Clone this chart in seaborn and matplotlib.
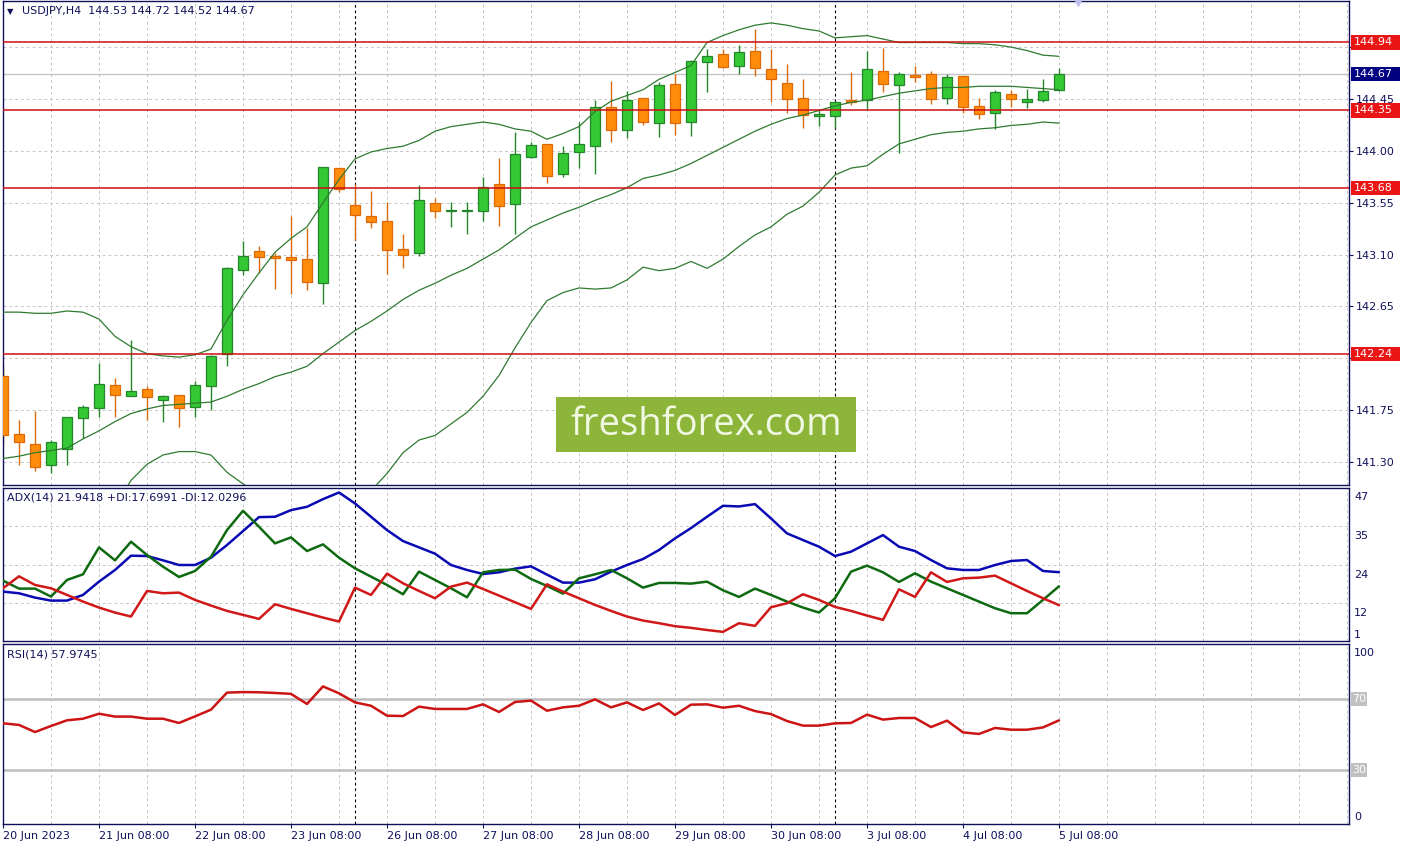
"""
USDJPY H4 chart with Bollinger bands, ADX(14) and RSI(14) panels.
"""
import numpy as np
import pandas as pd
import matplotlib
matplotlib.use("Agg")
import matplotlib.pyplot as plt
import matplotlib.transforms as mtransforms
from matplotlib.patches import Rectangle
import seaborn as sns

# ---- values (bar 0 = 20 Jun 08:00, H4 bars) ----
opens = [142.05, 141.54, 141.46, 141.27, 141.41, 141.68, 141.77, 141.97, 141.87, 141.93,
         141.84, 141.88, 141.78, 141.96, 142.24, 142.97, 143.13, 143.09, 143.08, 143.06,
         142.85, 143.85, 143.53, 143.43, 143.39, 143.15, 143.11, 143.55, 143.480, 143.480,
         143.48, 143.71, 143.54, 143.95, 144.06, 143.80, 143.99, 144.04, 144.38, 144.18,
         144.46, 144.24, 144.58, 144.25, 144.77, 144.84, 144.74, 144.87, 144.71, 144.59,
         144.46, 144.305, 144.305, 144.44, 144.44, 144.69, 144.57, 144.656, 144.67, 144.46,
         144.65, 144.39, 144.33, 144.49, 144.42, 144.44, 144.53]
highs = [142.13, 141.66, 141.74, 141.49, 141.69, 141.79, 142.16, 142.03, 142.36, 141.96,
         141.88, 141.88, 142.00, 142.23, 142.99, 143.22, 143.17, 143.11, 143.43, 143.33,
         143.86, 143.85, 143.71, 143.65, 143.56, 143.28, 143.70, 143.59, 143.556, 143.556,
         143.77, 143.94, 144.16, 144.08, 144.06, 144.04, 144.25, 144.44, 144.61, 144.52,
         144.46, 144.60, 144.67, 144.79, 144.88, 144.88, 144.92, 145.06, 144.88, 144.75,
         144.62, 144.355, 144.43, 144.68, 144.87, 144.89, 144.68, 144.736, 144.69, 144.67,
         144.65, 144.46, 144.53, 144.53, 144.54, 144.62, 144.72]
lows = [141.46, 141.27, 141.22, 141.20, 141.27, 141.51, 141.69, 141.69, 141.87, 141.66,
        141.65, 141.60, 141.69, 141.75, 142.13, 142.92, 142.94, 142.80, 142.76, 142.79,
        142.67, 143.64, 143.23, 143.33, 142.93, 142.98, 143.09, 143.42, 143.342, 143.276,
        143.39, 143.35, 143.28, 143.94, 143.72, 143.77, 143.85, 143.80, 144.08, 144.11,
        144.22, 144.12, 144.14, 144.13, 144.51, 144.72, 144.67, 144.65, 144.42, 144.33,
        144.20, 144.216, 144.20, 144.40, 144.36, 144.51, 143.98, 144.600, 144.41, 144.41,
        144.33, 144.28, 144.19, 144.38, 144.37, 144.42, 144.52]
closes = [141.53, 141.47, 141.26, 141.47, 141.69, 141.78, 141.98, 141.88, 141.92, 141.86,
          141.87, 141.77, 141.97, 142.22, 142.98, 143.09, 143.08, 143.07, 143.05, 142.86,
          143.86, 143.67, 143.44, 143.38, 143.14, 143.10, 143.57, 143.48, 143.487, 143.487,
          143.69, 143.52, 143.97, 144.05, 143.78, 143.98, 144.06, 144.38, 144.18, 144.44,
          144.25, 144.57, 144.24, 144.78, 144.82, 144.73, 144.86, 144.72, 144.62, 144.45,
          144.31, 144.317, 144.42, 144.42, 144.71, 144.58, 144.67, 144.641, 144.45, 144.64,
          144.38, 144.32, 144.51, 144.45, 144.45, 144.52, 144.67]

bb_upper = [142.60, 142.60, 142.59, 142.59, 142.61, 142.60, 142.54, 142.39, 142.30, 142.24,
            142.22, 142.21, 142.23, 142.28, 142.53, 142.75, 142.94, 143.12, 143.24, 143.34,
            143.55, 143.75, 143.93, 143.99, 144.02, 144.04, 144.09, 144.17, 144.21, 144.23,
            144.25, 144.23, 144.19, 144.17, 144.10, 144.15, 144.21, 144.34, 144.43, 144.48,
            144.53, 144.62, 144.68, 144.74, 144.94, 145.00, 145.05, 145.09, 145.11, 145.09,
            145.06, 145.04, 144.98, 144.99, 145.00, 144.97, 144.94, 144.94, 144.94, 144.94,
            144.93, 144.93, 144.92, 144.90, 144.87, 144.83, 144.82]
bb_middle = [141.33, 141.35, 141.38, 141.40, 141.42, 141.50, 141.57, 141.65, 141.72, 141.76,
             141.79, 141.80, 141.81, 141.82, 141.87, 141.93, 141.98, 142.04, 142.08, 142.13,
             142.24, 142.34, 142.44, 142.52, 142.61, 142.71, 142.79, 142.85, 142.92, 142.98,
             143.06, 143.14, 143.24, 143.34, 143.40, 143.46, 143.51, 143.57, 143.62, 143.68,
             143.76, 143.79, 143.83, 143.89, 143.96, 144.03, 144.10, 144.17, 144.23, 144.28,
             144.31, 144.35, 144.39, 144.42, 144.44, 144.47, 144.50, 144.52, 144.54, 144.55,
             144.55, 144.56, 144.56, 144.56, 144.55, 144.54, 144.53]
bb_lower = [140.06, 140.10, 140.17, 140.21, 140.23, 140.40, 140.60, 140.91, 141.14, 141.28,
            141.36, 141.39, 141.39, 141.36, 141.21, 141.11, 141.02, 140.96, 140.92, 140.92,
            140.93, 140.93, 140.95, 141.05, 141.20, 141.38, 141.49, 141.53, 141.63, 141.73,
            141.87, 142.05, 142.29, 142.51, 142.70, 142.77, 142.81, 142.80, 142.81, 142.88,
            142.99, 142.96, 142.98, 143.04, 142.98, 143.06, 143.17, 143.27, 143.34, 143.45,
            143.52, 143.64, 143.79, 143.85, 143.87, 143.97, 144.06, 144.10, 144.14, 144.16,
            144.17, 144.19, 144.20, 144.22, 144.23, 144.25, 144.24]

adx = [16.1, 15.6, 14.3, 13.4, 13.4, 15.1, 19.1, 22.6, 26.9, 26.8,
       25.5, 24.1, 24.1, 26.3, 30.1, 34.3, 38.5, 38.6, 40.6, 41.6,
       43.9, 45.9, 42.6, 38.6, 34.6, 31.3, 29.4, 27.5, 24.1, 22.6,
       21.4, 21.9, 23.0, 23.7, 21.2, 18.8, 18.8, 19.8, 22.1, 24.1,
       25.9, 28.6, 32.1, 35.2, 38.6, 41.9, 41.7, 42.4, 38.1, 33.6,
       31.6, 29.6, 26.8, 28.1, 30.6, 33.1, 29.6, 28.3, 25.6, 23.1,
       22.6, 22.6, 24.1, 25.3, 25.6, 22.3, 21.94]
plus_di = [19.4, 17.0, 17.0, 14.6, 19.6, 21.3, 29.4, 25.5, 31.1, 27.1,
           23.6, 20.5, 22.3, 26.6, 34.6, 40.4, 35.6, 30.6, 32.4, 28.3,
           30.3, 26.3, 23.1, 20.6, 18.1, 15.3, 22.1, 19.6, 17.1, 14.4,
           21.9, 22.6, 22.7, 19.9, 17.8, 15.5, 20.1, 21.3, 22.6, 20.1,
           17.3, 18.7, 18.7, 18.5, 19.1, 16.5, 14.5, 17.0, 15.1, 13.1,
           11.3, 9.8, 14.1, 22.1, 23.9, 21.9, 19.0, 21.6, 19.1, 17.1,
           15.1, 13.1, 11.1, 9.6, 9.6, 13.6, 17.70]
minus_di = [17.1, 20.7, 18.1, 17.1, 15.1, 13.1, 11.3, 9.8, 8.6, 16.3,
            15.6, 15.8, 13.6, 11.9, 10.3, 9.1, 7.9, 12.3, 10.9, 9.6,
            8.3, 7.1, 17.3, 15.1, 21.5, 18.6, 16.3, 14.1, 17.6, 18.8,
            16.9, 14.9, 12.9, 10.9, 18.3, 16.1, 14.1, 12.1, 10.3, 8.6,
            7.4, 6.6, 5.7, 5.2, 4.55, 4.0, 6.6, 5.8, 11.4, 12.6,
            15.3, 13.6, 11.5, 10.3, 8.9, 7.6, 16.8, 14.5, 21.9, 19.0,
            20.1, 20.3, 20.9, 18.6, 16.3, 14.1, 12.03]
rsi = [56.3, 55.4, 51.4, 54.8, 58.0, 58.9, 61.7, 60.1, 60.1, 58.9,
       58.9, 56.5, 60.2, 64.0, 73.6, 73.9, 73.8, 73.4, 72.9, 67.2,
       77.1, 73.2, 68.1, 66.2, 60.6, 60.4, 65.7, 64.4, 64.4, 64.4,
       67.0, 62.7, 68.3, 69.1, 63.4, 65.3, 66.2, 69.8, 65.3, 68.1,
       63.8, 67.5, 61.0, 66.8, 67.0, 65.1, 66.2, 63.2, 61.5, 57.6,
       55.0, 55.0, 56.3, 56.5, 61.2, 58.4, 59.3, 59.3, 54.2, 57.8,
       51.2, 50.3, 53.7, 52.7, 52.7, 54.0, 57.97]

level_lines = [144.94, 144.35, 143.68, 142.24]
last_price = 144.67
price_ticks = [141.30, 141.75, 142.20, 142.65, 143.10, 143.55, 144.00, 144.45, 144.90]
hidden_ticks = [144.90]        # label fully covered by the 144.94 box
partial_ticks = [142.20]       # label half covered by the 142.24 box
date_labels = ["20 Jun 2023", "21 Jun 08:00", "22 Jun 08:00", "23 Jun 08:00", "26 Jun 08:00",
               "27 Jun 08:00", "28 Jun 08:00", "29 Jun 08:00", "30 Jun 08:00", "3 Jul 08:00",
               "4 Jul 08:00", "5 Jul 08:00"]
date_label_bars = [0, 6, 12, 18, 24, 30, 36, 42, 48, 54, 60, 66]
week_separator_bars = [22, 52]
adx_tick_labels = ["1", "12", "24", "35", "47"]
rsi_levels = [70, 30]
header = "USDJPY,H4  144.53 144.72 144.52 144.67"
adx_header = "ADX(14) 21.9418 +DI:17.6991 -DI:12.0296"
rsi_header = "RSI(14) 57.9745"

# ---- styling ----
sns.set_theme(style="white")
plt.rcParams["font.family"] = ["DejaVu Sans"]

NAVY = "#10105a"
GRID = "#c6c6c6"
BULL, BULL_EDGE = "#34c834", "#24862a"
BEAR, BEAR_EDGE = "#ff8c0a", "#dc6a08"
BAND = "#2f7a30"
LEVEL = "#cc1010"
FS = 8

W, H = 1408, 847
fig = plt.figure(figsize=(W / 100, H / 100), dpi=100)
fig.patch.set_facecolor("white")


def px_axes(left, top, right, bottom):
    return fig.add_axes([left / W, 1 - bottom / H, (right - left) / W, (bottom - top) / H])


ax = px_axes(3, 1, 1349, 485)
ax_adx = px_axes(3, 488, 1349, 641)
ax_rsi = px_axes(3, 644, 1349, 824)

bars = np.arange(len(closes))
x_right = 84.125

for a in (ax, ax_adx, ax_rsi):
    a.set_facecolor("white")
    a.set_xlim(0, x_right)
    for s in a.spines.values():
        s.set_color(NAVY)
        s.set_linewidth(1.0)
    # vertical dashed grid every 3 bars and weekly separators
    for b in np.arange(0, x_right, 3):
        a.axvline(b, color=GRID, lw=0.7, ls=(0, (3, 3)), zorder=0)
    for b in week_separator_bars:
        a.axvline(b, color="black", lw=0.8, ls=(0, (2.5, 2.5)), zorder=1)
    a.set_xticks([])

# ---- main price panel ----
ax.set_ylim(141.10, 145.30)
for p in price_ticks:
    ax.axhline(p, color=GRID, lw=0.7, ls=(0, (3, 3)), zorder=0)
ax.axhline(last_price, color="#c4c4c4", lw=1.0, zorder=1)
for lv in level_lines:
    ax.axhline(lv, color=LEVEL, lw=1.1, zorder=6)

df = pd.DataFrame({"bar": bars, "open": opens, "high": highs, "low": lows, "close": closes})
up = (df["close"] >= df["open"]).to_numpy()
fill = np.where(up, BULL, BEAR)
edge = np.where(up, BULL_EDGE, BEAR_EDGE)
ax.vlines(df["bar"], df["low"], df["high"], colors=edge, lw=1.0, zorder=2)
body = np.maximum((df["close"] - df["open"]).abs(), 0.006)
ax.bar(df["bar"], body, bottom=np.minimum(df["open"], df["close"]), width=0.6,
       color=fill, edgecolor=edge, linewidth=0.9, zorder=3)

for band in (bb_upper, bb_middle, bb_lower):
    sns.lineplot(x=bars, y=band, ax=ax, color=BAND, lw=0.9, zorder=4)

ax.yaxis.tick_right()
ax.set_yticks(price_ticks)
ax.set_yticklabels(["" if p in hidden_ticks + partial_ticks else f"{p:.2f}" for p in price_ticks])
ax.tick_params(axis="y", right=True, left=False, length=3, width=0.8, pad=2,
               labelsize=FS, labelcolor=NAVY, color=NAVY)
ax.set_xlabel("")
ax.set_ylabel("")

blend = mtransforms.blended_transform_factory(ax.transAxes, ax.transData)
box_h = 0.122
for lv in level_lines + [last_price]:
    colour = "#000080" if lv == last_price else "#ea1515"
    ax.add_patch(Rectangle((1.0015, lv - box_h / 2), 0.0365, box_h, transform=blend,
                           facecolor=colour, edgecolor="none", clip_on=False, zorder=9))
    ax.annotate(f"{lv:.2f}", xy=(1, lv), xycoords=("axes fraction", "data"),
                xytext=(3.8, 0), textcoords="offset points", ha="left", va="center",
                fontsize=FS, color="white", annotation_clip=False, zorder=10)

# tick label that peeks out below a level box: only its lower part is drawn
for p in partial_ticks:
    covering = min(level_lines, key=lambda lv: abs(lv - p))
    t = ax.annotate(f"{p:.2f}", xy=(1, p), xycoords=("axes fraction", "data"),
                    xytext=(3.8, 0), textcoords="offset points", ha="left", va="center",
                    fontsize=FS, color=NAVY, annotation_clip=False, zorder=8)
    clip = mtransforms.TransformedBbox(
        mtransforms.Bbox([[1.0, 141.10], [1.05, covering - box_h / 2]]), blend)
    t.set_clip_box(clip)
    t.set_clip_on(True)

ax.annotate("\u25bc", xy=(0, 1), xycoords="axes fraction", xytext=(3.2, -7.4),
            textcoords="offset points", fontsize=6, color=NAVY, va="center", ha="left")
ax.annotate(header, xy=(0, 1), xycoords="axes fraction", xytext=(13.5, -7.4),
            textcoords="offset points", fontsize=FS, color=NAVY, va="center", ha="left")
# chart shift marker
ax.plot([67.2], [145.30], marker="v", ms=7, color="#c0c0ee", clip_on=False, zorder=7)

# ---- ADX panel ----
adx_lo, adx_hi = 1.25, 47.25
ax_adx.set_ylim(adx_lo, adx_hi)
adx_grid = np.linspace(adx_lo, adx_hi, 5)
for g in adx_grid[1:-1]:
    ax_adx.axhline(g, color=GRID, lw=0.7, ls=(0, (3, 3)), zorder=0)
sns.lineplot(x=bars, y=adx, ax=ax_adx, color="#0a0ab4", lw=1.8, zorder=3)
sns.lineplot(x=bars, y=plus_di, ax=ax_adx, color="#0e6a10", lw=1.8, zorder=3)
sns.lineplot(x=bars, y=minus_di, ax=ax_adx, color="#d01818", lw=1.8, zorder=3)
ax_adx.set_yticks([])
ax_adx.set_xlabel("")
ax_adx.set_ylabel("")
label_offsets = [4.6, -7.2, -7.2, -7.2, -6.3]
for g, lab, off in zip(adx_grid, adx_tick_labels, label_offsets):
    ax_adx.annotate(lab, xy=(1, g), xycoords=("axes fraction", "data"), xytext=(3.8, off),
                    textcoords="offset points", ha="left", va="center", fontsize=FS,
                    color=NAVY, annotation_clip=False)
ax_adx.annotate(adx_header, xy=(0, 1), xycoords="axes fraction", xytext=(3, -6.5),
                textcoords="offset points", fontsize=FS, color=NAVY, va="center", ha="left")

# ---- RSI panel ----
ax_rsi.set_ylim(-0.42, 100.99)
for lv in rsi_levels:
    ax_rsi.axhline(lv, color="#bdbdbd", lw=1.8, zorder=1)
sns.lineplot(x=bars, y=rsi, ax=ax_rsi, color="#cc1414", lw=1.8, zorder=3)
ax_rsi.set_yticks([])
ax_rsi.set_xlabel("")
ax_rsi.set_ylabel("")
blend_r = mtransforms.blended_transform_factory(ax_rsi.transAxes, ax_rsi.transData)
for lv in rsi_levels:
    ax_rsi.add_patch(Rectangle((1.0012, lv - 3.7), 0.0122, 7.4, transform=blend_r,
                               facecolor="#c0c0c0", edgecolor="none", clip_on=False, zorder=9))
    ax_rsi.annotate(str(lv), xy=(1, lv), xycoords=("axes fraction", "data"), xytext=(2.2, 0),
                    textcoords="offset points", ha="left", va="center", fontsize=FS,
                    color="white", annotation_clip=False, zorder=10)
for lv, off in ((100, -5.2), (0, 4.6)):
    ax_rsi.annotate(str(lv), xy=(1, lv), xycoords=("axes fraction", "data"), xytext=(3.8, off),
                    textcoords="offset points", ha="left", va="center", fontsize=FS,
                    color=NAVY, annotation_clip=False)
ax_rsi.annotate(rsi_header, xy=(0, 1), xycoords="axes fraction", xytext=(3, -7.8),
                textcoords="offset points", fontsize=FS, color=NAVY, va="center", ha="left")

ax_rsi.set_xticks(date_label_bars)
ax_rsi.set_xticklabels(date_labels, ha="left")
ax_rsi.tick_params(axis="x", bottom=True, length=3, width=0.8, pad=2, labelsize=FS,
                   labelcolor=NAVY, color=NAVY, direction="out")

# ---- watermark ----
fig.add_artist(Rectangle((556 / W, 1 - 452 / H), 300 / W, 55 / H, transform=fig.transFigure,
                         facecolor="#8db53a", edgecolor="none", zorder=20))
fig.text(706 / W, 1 - 425 / H, "freshforex.com", fontsize=27.5, color="#f0f8e2",
         ha="center", va="center", family=["Open Sans", "DejaVu Sans"], zorder=21)

fig.savefig("out.png", dpi=100, facecolor="white")
